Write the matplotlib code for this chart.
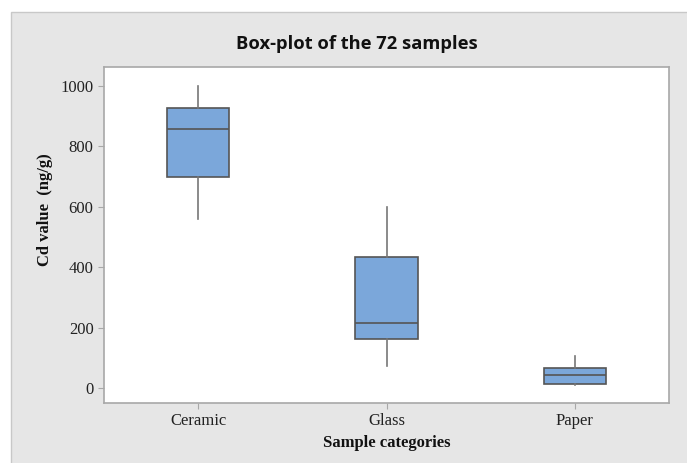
import matplotlib
matplotlib.use('Agg')
import matplotlib.pyplot as plt
from matplotlib.patches import Rectangle

categories = ['Ceramic', 'Glass', 'Paper']
whisker_low = [558, 73, 10]
q1 = [698, 163, 13]
median = [857, 216, 43]
q3 = [927, 432, 66]
whisker_high = [1000, 598, 106]

box_color = '#7BA7DA'
edge_color = '#555555'

fig = plt.figure(figsize=(6.87, 4.63), dpi=100)
fig.patch.set_facecolor('white')

# grey panel behind everything
panel = Rectangle((11 / 687, -0.01), 1.0, 1 - 12 / 463 + 0.01, transform=fig.transFigure,
                  facecolor='#E6E6E6', edgecolor='#C8C8C8', linewidth=1, zorder=-10)
fig.patches.append(panel)

ax = fig.add_axes([104 / 687, 60 / 463, 565 / 687, 336 / 463])
ax.set_facecolor('white')

stats = []
for i in range(len(categories)):
    stats.append({'label': categories[i], 'whislo': whisker_low[i], 'q1': q1[i],
                  'med': median[i], 'q3': q3[i], 'whishi': whisker_high[i], 'fliers': []})

ax.bxp(stats, positions=[1, 2, 3], widths=0.33, patch_artist=True, showcaps=False,
       showfliers=False,
       boxprops=dict(facecolor=box_color, edgecolor=edge_color, linewidth=1.2),
       medianprops=dict(color=edge_color, linewidth=1.2),
       whiskerprops=dict(color='#777777', linewidth=1.2))

ax.set_xlim(0.5, 3.5)
ax.set_ylim(-50, 1063)
ax.set_yticks([0, 200, 400, 600, 800, 1000])
ax.set_xticks([1, 2, 3])
ax.set_xticklabels(categories)

for s in ax.spines.values():
    s.set_color('#A8A8A8')
    s.set_linewidth(1.2)

ax.tick_params(axis='both', colors='#A8A8A8', length=4, labelcolor='#222222')
for lab in ax.get_xticklabels() + ax.get_yticklabels():
    lab.set_family('Liberation Serif')
    lab.set_fontsize(12)

ax.set_xlabel('Sample categories', family='Liberation Serif', fontweight='bold',
              fontsize=12, color='#111111', labelpad=4)
ax.set_ylabel('Cd value  (ng/g)', family='Liberation Serif', fontweight='bold',
              fontsize=12, color='#111111')
ax.yaxis.set_label_coords(-0.09, 0.577)

fig.text(357 / 687, 1 - 44 / 463, 'Box-plot of the 72 samples', ha='center', va='center',
         family='Open Sans', fontweight='bold', fontsize=13.2, color='#111111')

fig.savefig('out.png', dpi=100)
